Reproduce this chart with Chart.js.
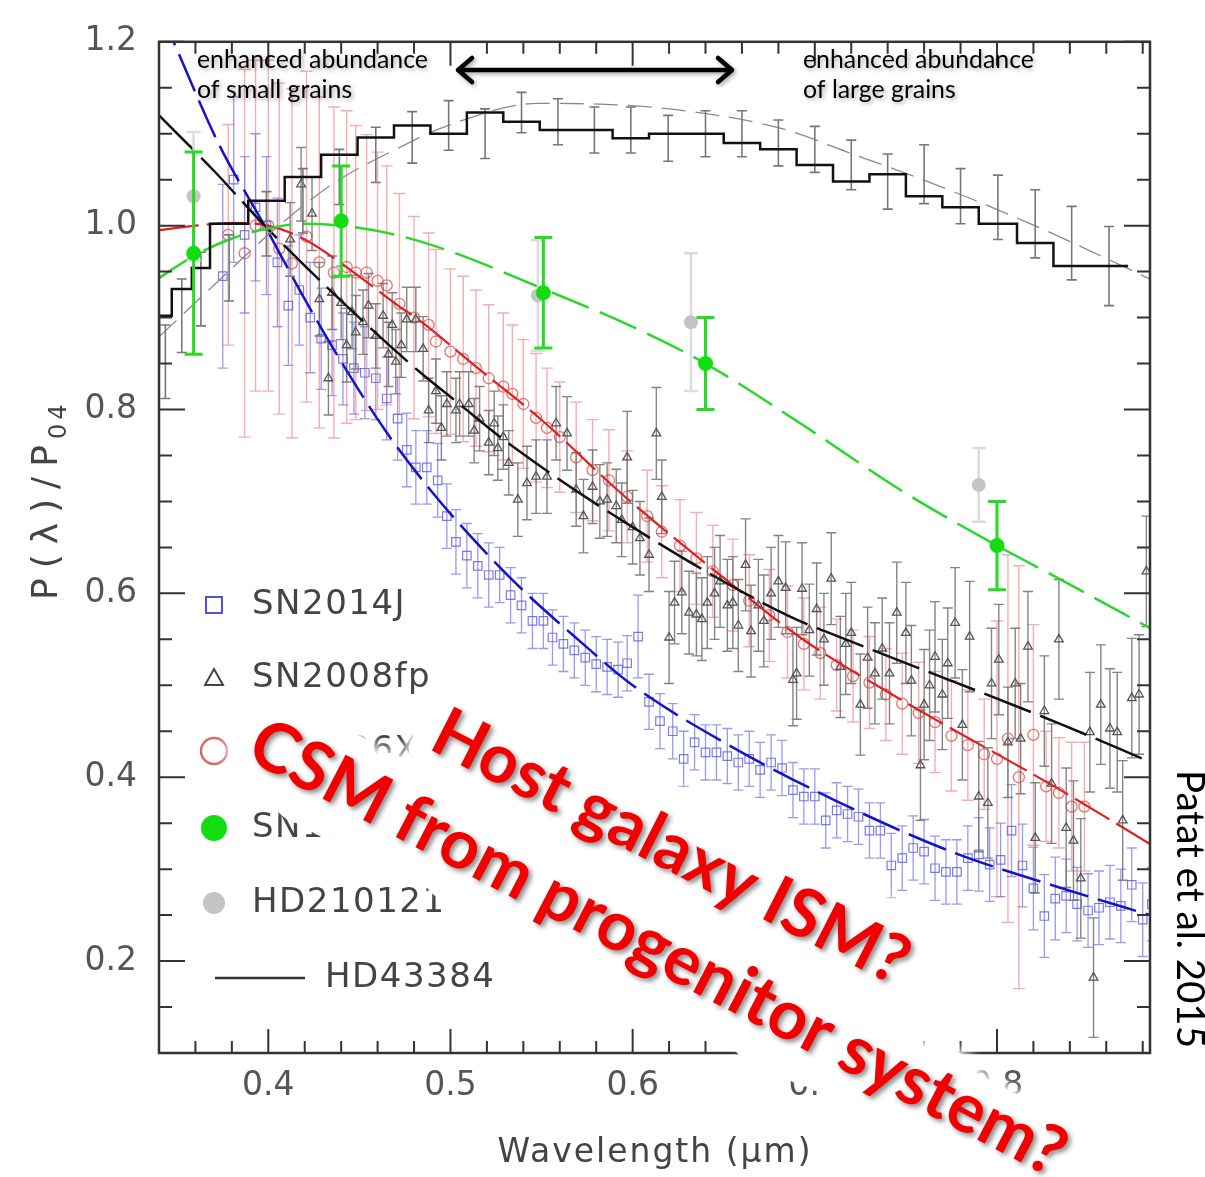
<!DOCTYPE html>
<html>
<head>
<meta charset="utf-8">
<script src="https://cdn.jsdelivr.net/npm/chart.js@4/dist/chart.umd.min.js"></script>
<style>
html, body { margin: 0; background: #fff; }
canvas { display: block; }
</style>
</head>
<body>
<canvas id="grafica" width="1205" height="1177"></canvas>
<script>
// tick labels
const xLabels = [0.4, 0.5, 0.6, 0.7, 0.8];
const yLabels = [0.2, 0.4, 0.6, 0.8, 1.0, 1.2];

// SN2014J (blue squares)
const sn2014jLam = [0.375,0.381,0.387,0.393,0.399,0.405,0.411,0.417,0.423,0.429,
  0.435,0.441,0.447,0.453,0.459,0.465,0.471,0.476,0.481,0.487,
  0.493,0.498,0.503,0.509,0.515,0.521,0.527,0.533,0.539,0.545,
  0.551,0.556,0.562,0.568,0.574,0.580,0.586,0.592,0.597,0.603,
  0.609,0.615,0.622,0.628,0.634,0.640,0.646,0.652,0.658,0.664,
  0.670,0.676,0.682,0.688,0.694,0.700,0.706,0.712,0.718,0.724,
  0.730,0.736,0.742,0.748,0.754,0.760,0.766,0.772,0.778,0.784,
  0.790,0.796,0.802,0.808,0.814,0.820,0.826,0.832,0.838,0.844,
  0.850,0.856,0.862,0.868,0.874,0.880,0.885];
const sn2014jPol = [0.945,1.05,0.99,1.02,1.00,0.96,0.913,0.93,0.90,0.877,
  0.87,0.855,0.845,0.84,0.834,0.812,0.79,0.756,0.737,0.737,
  0.723,0.684,0.656,0.641,0.63,0.62,0.62,0.598,0.587,0.57,
  0.57,0.552,0.545,0.538,0.53,0.523,0.52,0.517,0.524,0.553,
  0.482,0.461,0.45,0.42,0.438,0.427,0.427,0.423,0.416,0.42,
  0.408,0.416,0.41,0.386,0.379,0.379,0.353,0.364,0.36,0.357,
  0.342,0.342,0.304,0.312,0.323,0.319,0.301,0.297,0.297,0.312,
  0.316,0.305,0.31,0.342,0.304,0.279,0.249,0.268,0.271,0.262,
  0.255,0.258,0.264,0.26,0.283,0.245,0.262];
const sn2014jErr = [0.10,0.09,0.085,0.08,0.075,0.07,0.065,0.06,0.06,0.055,
  0.055,0.05,0.05,0.05,0.045,0.045,0.045,0.04,0.04,0.04,
  0.04,0.035,0.035,0.035,0.035,0.035,0.03,0.03,0.03,0.03,
  0.03,0.03,0.03,0.03,0.03,0.03,0.03,0.03,0.03,0.045,
  0.03,0.03,0.03,0.03,0.03,0.03,0.03,0.03,0.03,0.03,
  0.03,0.03,0.03,0.03,0.03,0.03,0.03,0.03,0.03,0.03,
  0.03,0.03,0.035,0.035,0.035,0.035,0.035,0.035,0.035,0.035,
  0.04,0.04,0.04,0.05,0.045,0.045,0.045,0.045,0.04,0.04,
  0.04,0.04,0.04,0.04,0.04,0.04,0.04];

// SN2008fp (black triangles)
const sn2008fpLam = [0.412,0.418,0.424,0.428,0.433,0.435,0.440,0.443,0.446,0.448,
  0.452,0.455,0.459,0.463,0.466,0.468,0.470,0.473,0.476,0.481,
  0.485,0.488,0.492,0.495,0.498,0.503,0.505,0.510,0.513,0.516,
  0.521,0.524,0.526,0.529,0.532,0.537,0.542,0.547,0.553,0.558,
  0.564,0.569,0.573,0.578,0.582,0.586,0.591,0.594,0.597,0.600,
  0.604,0.609,0.613,0.616,0.620,0.623,0.627,0.631,0.635,0.638,
  0.641,0.645,0.648,0.652,0.655,0.658,0.662,0.665,0.669,0.672,
  0.676,0.680,0.684,0.688,0.690,0.693,0.697,0.701,0.705,0.709,
  0.714,0.717,0.720,0.725,0.729,0.733,0.737,0.741,0.745,0.750,
  0.753,0.758,0.760,0.763,0.766,0.770,0.773,0.777,0.781,0.785,
  0.790,0.795,0.797,0.801,0.806,0.810,0.813,0.817,0.821,0.826,
  0.830,0.834,0.838,0.842,0.846,0.851,0.853,0.857,0.862,0.866,
  0.869,0.874,0.878,0.882];
const sn2008fpPol = [0.985,1.045,1.013,0.92,0.834,0.927,0.916,0.87,0.906,0.884,
  0.895,0.913,0.88,0.902,0.86,0.892,0.852,0.87,0.898,0.898,
  0.866,0.799,0.82,0.78,0.806,0.799,0.806,0.806,0.777,0.79,
  0.764,0.785,0.758,0.77,0.742,0.702,0.72,0.727,0.727,0.785,
  0.774,0.713,0.684,0.716,0.70,0.702,0.695,0.68,0.748,0.672,
  0.66,0.642,0.774,0.705,0.552,0.59,0.601,0.579,0.577,0.572,
  0.59,0.60,0.613,0.587,0.59,0.565,0.631,0.559,0.587,0.57,
  0.60,0.613,0.606,0.506,0.513,0.605,0.56,0.583,0.55,0.616,
  0.52,0.545,0.557,0.479,0.53,0.513,0.54,0.513,0.579,0.557,
  0.505,0.413,0.479,0.50,0.531,0.49,0.524,0.568,0.457,0.553,
  0.379,0.372,0.502,0.528,0.438,0.502,0.442,0.542,0.334,0.472,
  0.393,0.55,0.345,0.331,0.29,0.449,0.182,0.479,0.453,0.449,
  0.353,0.486,0.49,0.624];
const sn2008fpErr = [0.04,0.04,0.04,0.04,0.04,0.04,0.04,0.04,0.04,0.04,
  0.035,0.035,0.035,0.035,0.035,0.035,0.035,0.035,0.035,0.035,
  0.035,0.035,0.035,0.035,0.035,0.035,0.035,0.035,0.035,0.035,
  0.035,0.035,0.035,0.035,0.035,0.04,0.04,0.04,0.04,0.04,
  0.04,0.04,0.04,0.04,0.04,0.04,0.04,0.04,0.05,0.04,
  0.04,0.04,0.05,0.04,0.05,0.045,0.045,0.045,0.045,0.045,
  0.05,0.05,0.05,0.05,0.05,0.05,0.05,0.05,0.05,0.05,
  0.05,0.05,0.05,0.05,0.05,0.05,0.05,0.05,0.05,0.05,
  0.055,0.055,0.055,0.055,0.055,0.055,0.055,0.055,0.055,0.055,
  0.06,0.06,0.06,0.06,0.06,0.06,0.06,0.06,0.06,0.06,
  0.06,0.06,0.06,0.06,0.06,0.06,0.06,0.06,0.06,0.06,
  0.065,0.065,0.065,0.065,0.065,0.065,0.065,0.065,0.065,0.065,
  0.065,0.065,0.065,0.06];

// SN2006X (red circles)
const sn2006xLam = [0.378,0.387,0.393,0.400,0.406,0.413,0.421,0.428,0.436,0.443,
  0.448,0.454,0.460,0.465,0.472,0.480,0.488,0.492,0.500,0.507,
  0.514,0.521,0.529,0.534,0.540,0.547,0.553,0.560,0.569,0.578,
  0.587,0.597,0.608,0.616,0.626,0.635,0.644,0.655,0.664,0.675,
  0.685,0.694,0.703,0.712,0.721,0.730,0.739,0.748,0.757,0.766,
  0.775,0.784,0.793,0.800,0.806,0.812,0.820,0.827,0.834,0.841,
  0.848];
const sn2006xPol = [0.99,0.97,1.00,1.00,0.975,0.959,0.988,0.96,0.949,0.955,
  0.949,0.949,0.94,0.935,0.915,0.90,0.892,0.874,0.863,0.855,
  0.845,0.834,0.825,0.817,0.806,0.791,0.78,0.77,0.748,0.734,
  0.723,0.705,0.684,0.667,0.652,0.638,0.624,0.609,0.592,0.576,
  0.558,0.545,0.535,0.522,0.51,0.503,0.49,0.48,0.47,0.46,
  0.445,0.435,0.425,0.42,0.442,0.40,0.446,0.39,0.383,0.368,
  0.368];
const sn2006xErr = [0.12,0.2,0.18,0.18,0.18,0.19,0.18,0.18,0.18,0.17,
  0.16,0.15,0.14,0.13,0.12,0.11,0.10,0.10,0.09,0.09,
  0.085,0.08,0.08,0.075,0.07,0.07,0.065,0.06,0.06,0.055,
  0.055,0.05,0.05,0.05,0.05,0.05,0.05,0.05,0.05,0.05,
  0.05,0.05,0.05,0.05,0.05,0.05,0.05,0.055,0.055,0.055,
  0.06,0.06,0.06,0.15,0.2,0.23,0.12,0.06,0.06,0.07,
  0.07];

// SN1986G (green, broad band)
const sn1986gLam = [0.359, 0.440, 0.551, 0.640, 0.800];
const sn1986gPol = [0.97, 1.005, 0.927, 0.85, 0.652];
const sn1986gErr = [0.11, 0.06, 0.06, 0.05, 0.048];

// HD210121 (grey, broad band)
const hd210121Lam = [0.359, 0.548, 0.632, 0.790];
const hd210121Pol = [1.032, 0.924, 0.895, 0.718];
const hd210121Err = [0.07, 0.06, 0.075, 0.04];

// HD43384 (binned histogram)
const hd43384Edges = [0.340,0.347,0.358,0.368,0.389,0.409,0.429,0.449,0.469,0.489,
  0.509,0.529,0.549,0.569,0.589,0.609,0.630,0.650,0.670,0.690,
  0.710,0.730,0.750,0.770,0.790,0.811,0.831,0.851,0.872];
const hd43384Pol = [0.852,0.902,0.931,0.954,1.002,1.027,1.053,1.077,1.096,1.109,
  1.100,1.123,1.113,1.104,1.104,1.095,1.100,1.100,1.090,1.083,
  1.066,1.048,1.056,1.032,1.020,1.002,0.981,0.956];
const hd43384Err = [0.04,0.04,0.04,0.036,0.035,0.035,0.03,0.03,0.028,0.027,
  0.027,0.022,0.025,0.025,0.025,0.025,0.025,0.025,0.025,0.025,
  0.027,0.03,0.032,0.03,0.035,0.037,0.04,0.043];

// Serkowski fits
const fit2014jLam = [0.340,0.348,0.373,0.398,0.420,0.440,0.465,0.490,0.512,0.540,0.567,0.600,0.650,0.713,0.775,0.836,0.884];
const fit2014jPol = [1.236,1.2,1.088,1.0,0.92,0.852,0.775,0.71,0.66,0.603,0.555,0.50,0.438,0.373,0.319,0.279,0.25];
const fit2008fpLam = [0.340,0.370,0.398,0.445,0.483,0.503,0.532,0.600,0.685,0.717,0.836,0.886];
const fit2008fpPol = [1.12,1.06,1.0,0.909,0.841,0.809,0.763,0.672,0.576,0.550,0.457,0.415];
const fit2006xLam = [0.340,0.360,0.380,0.400,0.420,0.445,0.472,0.483,0.515,0.551,0.593,0.648,0.692,0.745,0.834,0.886];
const fit2006xPol = [0.995,1.0,1.003,1.0,0.985,0.952,0.912,0.897,0.845,0.787,0.71,0.62,0.552,0.487,0.387,0.325];
const fit1986gLam = [0.340,0.360,0.380,0.400,0.420,0.440,0.470,0.500,0.550,0.600,0.640,0.692,0.749,0.800,0.834,0.886];
const fit1986gPol = [0.943,0.968,0.986,0.997,1.002,1.0,0.99,0.972,0.932,0.89,0.85,0.785,0.71,0.652,0.616,0.56];
const fit43384Lam = [0.340,0.370,0.400,0.435,0.472,0.500,0.548,0.615,0.681,0.722,0.762,0.815,0.869,0.886];
const fit43384Pol = [0.879,0.935,0.99,1.045,1.085,1.11,1.133,1.128,1.106,1.077,1.048,1.005,0.956,0.94];

const pts = (xs, ys) => xs.map((x, i) => ({ x: x, y: ys[i] }));
const hdCenters = hd43384Edges.slice(0, -1).map((e, i) => (e + hd43384Edges[i + 1]) / 2);
const hdSteps = hd43384Edges.map((x, i) => ({ x: x, y: hd43384Pol[Math.min(i, hd43384Pol.length - 1)] }));

function fitLine(xs, ys, color, width, dash, order) {
    return {
        type: "line", data: pts(xs, ys), borderColor: color, borderWidth: width, borderDash: dash,
        pointRadius: 0, cubicInterpolationMode: "monotone", fill: false, order: order
    };
}

const errorBars = {
    id: "errorBars",
    beforeDatasetDraw(chart, args) {
        const ds = chart.data.datasets[args.index];
        if (!ds.errors) return;
        const { ctx, chartArea: a, scales: { x, y } } = chart;
        ctx.save();
        ctx.beginPath();
        ctx.rect(a.left, a.top, a.right - a.left, a.bottom - a.top);
        ctx.clip();
        ctx.strokeStyle = ds.errorColor;
        ctx.lineWidth = ds.errorWidth;
        ctx.beginPath();
        ds.data.forEach((p, i) => {
            const px = x.getPixelForValue(p.x);
            const lo = y.getPixelForValue(p.y - ds.errors[i]);
            const hi = y.getPixelForValue(p.y + ds.errors[i]);
            const c = ds.capWidth / 2;
            ctx.moveTo(px, lo); ctx.lineTo(px, hi);
            ctx.moveTo(px - c, lo); ctx.lineTo(px + c, lo);
            ctx.moveTo(px - c, hi); ctx.lineTo(px + c, hi);
        });
        ctx.stroke();
        ctx.restore();
    }
};

function drawMarker(ctx, kind, x, y) {
    ctx.beginPath();
    if (kind === "square") {
        ctx.strokeStyle = "#5050d8"; ctx.lineWidth = 2;
        ctx.strokeRect(x - 8, y - 8, 16, 16);
    } else if (kind === "triangle") {
        ctx.strokeStyle = "#444"; ctx.lineWidth = 2;
        ctx.moveTo(x, y - 9); ctx.lineTo(x + 9, y + 7); ctx.lineTo(x - 9, y + 7); ctx.closePath(); ctx.stroke();
    } else if (kind === "ring") {
        ctx.strokeStyle = "#d86a6a"; ctx.lineWidth = 2.5;
        ctx.arc(x, y, 13, 0, Math.PI * 2); ctx.stroke();
    } else if (kind === "green") {
        ctx.fillStyle = "#11dd11";
        ctx.arc(x, y, 13, 0, Math.PI * 2); ctx.fill();
    } else if (kind === "grey") {
        ctx.fillStyle = "#c4c4c4";
        ctx.arc(x, y, 11, 0, Math.PI * 2); ctx.fill();
    }
}

const legendItems = [
    { kind: "square", text: "SN2014J", y: 605 },
    { kind: "triangle", text: "SN2008fp", y: 678 },
    { kind: "ring", text: "SN2006X", y: 751 },
    { kind: "green", text: "SN1986G", y: 828 },
    { kind: "grey", text: "HD210121", y: 903 },
    { kind: "line", text: "HD43384", y: 978 }
];

const frame = {
    id: "frame",
    afterDatasetsDraw(chart) {
        const { ctx, chartArea: a, scales: { x, y } } = chart;
        ctx.save();
        // frame
        ctx.strokeStyle = "#333";
        ctx.lineWidth = 2.5;
        ctx.strokeRect(a.left, a.top, a.right - a.left, a.bottom - a.top);
        // inward ticks
        ctx.lineWidth = 2;
        ctx.beginPath();
        for (let i = 0; i <= 27; i++) {
            const v = 0.34 + i * 0.02;
            if (v > x.max + 1e-9) break;
            const px = x.getPixelForValue(v);
            const major = xLabels.some(t => Math.abs(t - v) < 1e-6);
            const len = major ? 24 : 12;
            ctx.moveTo(px, a.bottom); ctx.lineTo(px, a.bottom - len);
            ctx.moveTo(px, a.top); ctx.lineTo(px, a.top + len);
        }
        for (let i = 0; i <= 22; i++) {
            const v = 0.1 + i * 0.05;
            const py = y.getPixelForValue(v);
            const major = yLabels.some(t => Math.abs(t - v) < 1e-6);
            const len = major ? 26 : 13;
            ctx.moveTo(a.left, py); ctx.lineTo(a.left + len, py);
            ctx.moveTo(a.right, py); ctx.lineTo(a.right - len, py);
        }
        ctx.stroke();

        // legend
        ctx.font = "34px 'DejaVu Sans'";
        ctx.letterSpacing = "1.5px";
        ctx.fillStyle = "#444";
        ctx.textBaseline = "middle";
        legendItems.forEach(it => {
            if (it.kind === "line") {
                ctx.beginPath();
                ctx.strokeStyle = "#333"; ctx.lineWidth = 2.5;
                ctx.moveTo(215, it.y); ctx.lineTo(305, it.y); ctx.stroke();
                ctx.fillStyle = "#444";
                ctx.fillText(it.text, 325, it.y);
            } else {
                drawMarker(ctx, it.kind, 214, it.y);
                ctx.fillStyle = "#444";
                ctx.fillText(it.text, 252, it.y);
            }
        });

        // axis titles
        ctx.textBaseline = "alphabetic";
        ctx.font = "33px 'DejaVu Sans'";
        ctx.letterSpacing = "2px";
        ctx.textAlign = "center";
        ctx.fillText("Wavelength (\u03bcm)", 655, 1162);
        ctx.textAlign = "left";
        ctx.save();
        ctx.translate(57, 600);
        ctx.rotate(-Math.PI / 2);
        ctx.font = "36px 'DejaVu Sans'";
        ctx.letterSpacing = "10px";
        ctx.fillText("P(\u03bb)/P", 0, 0);
        const w = ctx.measureText("P(\u03bb)/P").width;
        ctx.font = "24px 'DejaVu Sans'";
        ctx.letterSpacing = "4px";
        ctx.fillText("04", w - 4, 9);
        ctx.restore();
        ctx.restore();
    }
};

function fitFont(ctx, text, weight, family, len) {
    ctx.font = weight + " 100px " + family;
    const s = 100 * len / ctx.measureText(text).width;
    ctx.font = weight + " " + s + "px " + family;
}

function callout(ctx, text, x, y, angle, len) {
    ctx.save();
    ctx.translate(x, y);
    ctx.rotate(angle * Math.PI / 180);
    ctx.letterSpacing = "0px";
    fitFont(ctx, text, "bold", "Lato", len);
    ctx.lineJoin = "round";
    ctx.strokeStyle = "#fff";
    ctx.lineWidth = 46;
    ctx.shadowColor = "#fff";
    ctx.shadowBlur = 14;
    ctx.strokeText(text, 0, 0);
    ctx.strokeText(text, 0, 0);
    // glow spreads a little further below the baseline
    ctx.shadowBlur = 0;
    ctx.lineWidth = 38;
    ctx.strokeText(text, 6, 15);
    ctx.shadowColor = "rgba(0,0,0,0.45)";
    ctx.shadowBlur = 5;
    ctx.shadowOffsetX = 3;
    ctx.shadowOffsetY = 3;
    ctx.fillStyle = "#f20000";
    ctx.fillText(text, 0, 0);
    ctx.restore();
}

const annotations = {
    id: "annotations",
    afterDraw(chart) {
        const ctx = chart.ctx;
        ctx.save();
        ctx.textBaseline = "alphabetic";
        ctx.textAlign = "left";
        ctx.letterSpacing = "0px";
        ctx.shadowColor = "rgba(0,0,0,0.35)";
        ctx.shadowBlur = 4;
        ctx.shadowOffsetX = 2;
        ctx.shadowOffsetY = 2;
        ctx.fillStyle = "#000";
        fitFont(ctx, "enhanced abundance", "normal", "Lato", 231);
        ctx.fillText("enhanced abundance", 197, 68);
        ctx.fillText("of small grains", 197, 98);
        ctx.fillText("enhanced abundance", 803, 68);
        ctx.fillText("of large grains", 803, 98);

        // double arrow
        ctx.strokeStyle = "#000";
        ctx.lineWidth = 4.5;
        ctx.lineCap = "round";
        ctx.lineJoin = "round";
        ctx.beginPath();
        ctx.moveTo(458, 70); ctx.lineTo(732, 70);
        ctx.moveTo(472, 58); ctx.lineTo(458, 70); ctx.lineTo(472, 82);
        ctx.moveTo(718, 58); ctx.lineTo(732, 70); ctx.lineTo(718, 82);
        ctx.stroke();

        // source
        ctx.shadowColor = "transparent";
        ctx.save();
        ctx.translate(1177, 770);
        ctx.rotate(Math.PI / 2);
        fitFont(ctx, "Patat et al. 2015", "normal", "Lato", 278);
        ctx.fillText("Patat et al. 2015", 0, 0);
        ctx.restore();
        ctx.restore();

        callout(ctx, "Host galaxy ISM?", 427, 748, 27, 525);
        callout(ctx, "CSM from progenitor system?", 244, 758, 27.5, 910);
    }
};

const datasets = [
    { label: "SN1986G", data: pts(sn1986gLam, sn1986gPol), errors: sn1986gErr, errorColor: "#22dd22", errorWidth: 3, capWidth: 18,
      pointStyle: "circle", pointRadius: 7.5, backgroundColor: "#11dd11", borderColor: "#11dd11", borderWidth: 0, order: 0 },
    { label: "HD210121", data: pts(hd210121Lam, hd210121Pol), errors: hd210121Err, errorColor: "#dcdcdc", errorWidth: 2.5, capWidth: 14,
      pointStyle: "circle", pointRadius: 7, backgroundColor: "#c4c4c4", borderColor: "#c4c4c4", borderWidth: 0, order: 1 },
    { label: "HD43384", type: "line", data: hdSteps, stepped: "after", borderColor: "#111", borderWidth: 2.5, pointRadius: 0, fill: false, order: 2 },
    { label: "HD43384 bins", data: pts(hdCenters, hd43384Pol), errors: hd43384Err, errorColor: "#777", errorWidth: 1.6, capWidth: 10,
      pointRadius: 0, order: 3 },
    fitLine(fit1986gLam, fit1986gPol, "#2ad82a", 2.5, [40, 12], 4),
    fitLine(fit43384Lam, fit43384Pol, "#8a8a8a", 1.3, [24, 10], 5),
    fitLine(fit2008fpLam, fit2008fpPol, "#111", 2.5, [50, 10], 6),
    fitLine(fit2006xLam, fit2006xPol, "#e02020", 2.2, [40, 8], 7),
    fitLine(fit2014jLam, fit2014jPol, "#1414c8", 2.5, [40, 10], 8),
    { label: "SN2008fp", data: pts(sn2008fpLam, sn2008fpPol), errors: sn2008fpErr, errorColor: "rgba(110,110,110,0.85)", errorWidth: 1.4, capWidth: 10,
      pointStyle: "triangle", pointRadius: 5, backgroundColor: "transparent", borderColor: "#555", borderWidth: 1.3, order: 9 },
    { label: "SN2014J", data: pts(sn2014jLam, sn2014jPol), errors: sn2014jErr, errorColor: "rgba(110,110,235,0.7)", errorWidth: 1.3, capWidth: 10,
      pointStyle: "rect", pointRadius: 6, backgroundColor: "transparent", borderColor: "rgba(90,90,225,0.8)", borderWidth: 1.2, order: 10 },
    { label: "SN2006X", data: pts(sn2006xLam, sn2006xPol), errors: sn2006xErr, errorColor: "rgba(240,140,140,0.7)", errorWidth: 1.4, capWidth: 12,
      pointStyle: "circle", pointRadius: 5.5, backgroundColor: "transparent", borderColor: "rgba(230,90,90,0.85)", borderWidth: 1.3, order: 11 }
];

const grafica = new Chart(document.getElementById("grafica"), {
    type: "scatter",
    data: { datasets: datasets },
    options: {
        responsive: false,
        animation: false,
        events: [],
        layout: { padding: { top: 23, right: 55, left: 0, bottom: 0 } },
        plugins: { legend: { display: false }, tooltip: { enabled: false } },
        scales: {
            x: {
                type: "linear", min: 0.34, max: 0.884,
                grid: { display: false, drawTicks: false },
                border: { display: false },
                afterBuildTicks: (s) => { s.ticks = xLabels.map(v => ({ value: v })); },
                afterFit: (s) => { s.height = 124; },
                ticks: { font: { family: "DejaVu Sans", size: 33 }, color: "#555", padding: 14, maxRotation: 0, autoSkip: false,
                         callback: (v) => v.toFixed(1) }
            },
            y: {
                type: "linear", min: 0.1, max: 1.2,
                grid: { display: false, drawTicks: false },
                border: { display: false },
                afterBuildTicks: (s) => { s.ticks = yLabels.map(v => ({ value: v })); },
                afterFit: (s) => { s.width = 159; },
                ticks: { font: { family: "DejaVu Sans", size: 33 }, color: "#555", padding: 22, autoSkip: false,
                         callback: (v) => v.toFixed(1) }
            }
        }
    },
    plugins: [errorBars, frame, annotations]
});
</script>
</body>
</html>
